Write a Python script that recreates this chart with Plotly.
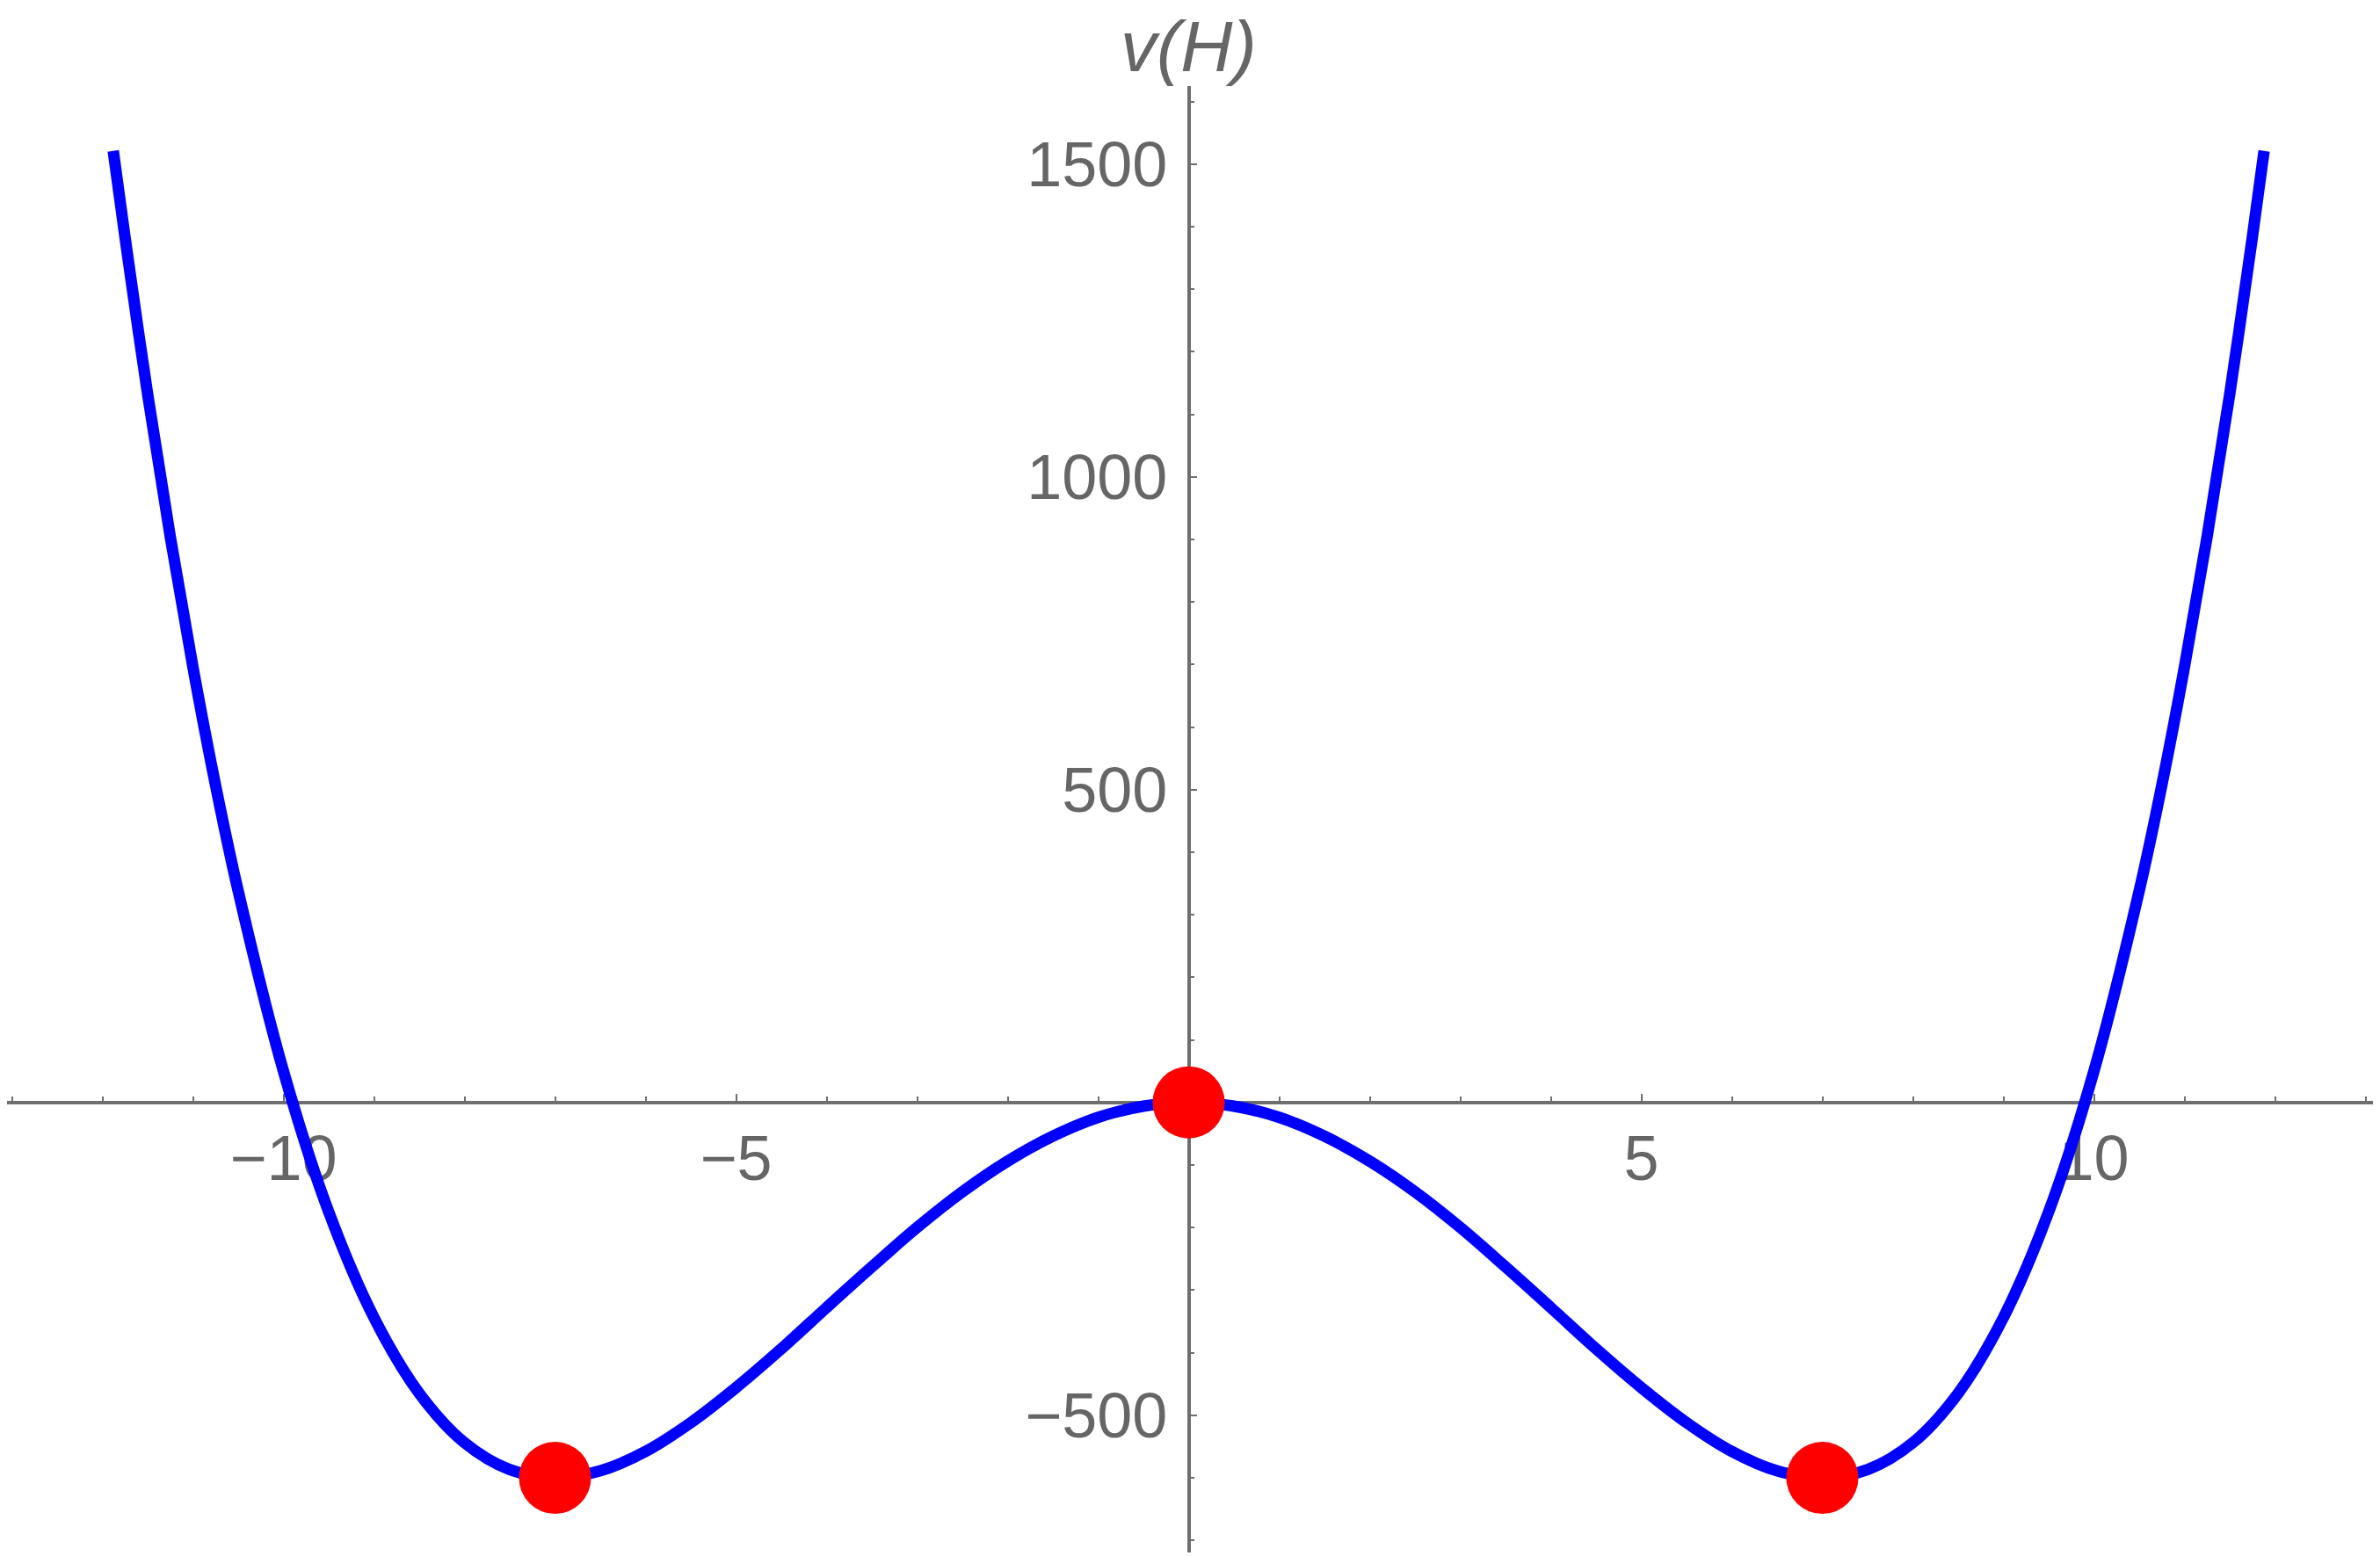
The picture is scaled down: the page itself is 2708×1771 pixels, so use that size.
import plotly.graph_objects as go

# v(H) (symmetric double well, minima near H = +-7)
h_vals = [-11.88, -11.75, -11.5, -11.25, -11.0, -10.75, -10.5, -10.0, -9.5, -9.0, -8.5, -8.0,
          -7.5, -7.0, -6.5, -6.0, -5.5, -5.0, -4.5, -4.0, -3.5, -3.0, -2.5, -2.0, -1.5,
          -1.0, -0.5, 0.0, 0.5, 1.0, 1.5, 2.0, 2.5, 3.0, 3.5, 4.0, 4.5, 5.0, 5.5, 6.0,
          6.5, 7.0, 7.5, 8.0, 8.5, 9.0, 9.5, 10.0, 10.5, 10.75, 11.0, 11.25, 11.5, 11.75, 11.88]
v_vals = [1521, 1383, 1132, 904, 696, 507, 338, 50, -175, -344, -465, -544,
          -587, -600, -589, -558, -512, -456, -394, -328, -263, -200, -143, -94, -54,
          -24, -6, 0, -6, -24, -54, -94, -143, -200, -263, -328, -394, -456, -512, -558,
          -589, -600, -587, -544, -465, -344, -175, 50, 338, 507, 696, 904, 1132, 1383, 1521]

# stationary points marked in red
pts_h = [-7.0, 0.0, 7.0]
pts_v = [-600.25, 0.0, -600.25]

x_ticks = [-10, -5, 5, 10]
x_ticktext = ["\u221210", "\u22125", "5", "10"]
y_ticks = [-500, 500, 1000, 1500]
y_ticktext = ["\u2212500", "500", "1000", "1500"]

W, H = 2708, 1771
OFF = 8  # page body margin pushes the figure down/right
gray = "#6e6e6e"
txt = "#666666"

# pixel geometry of the reference (origin, px per unit)
x0_px, y0_px = 1352.5 - OFF, 1254.7 - OFF
px_x, px_y = 103.0, 0.712
ytop_px, ybot_px = 98 - OFF, 1767 - OFF

fig = go.Figure()
fig.add_trace(go.Scatter(x=h_vals, y=v_vals, mode="lines", line=dict(color="#0000ff", width=13, shape="spline"),
                         showlegend=False))
fig.add_trace(go.Scatter(x=pts_h, y=pts_v, mode="markers", marker=dict(color="#ff0000", size=82, line=dict(width=0)),
                         showlegend=False))

fig.update_layout(
    width=W, height=H,
    margin=dict(l=0, r=0, t=0, b=0),
    paper_bgcolor="white", plot_bgcolor="white",
    font=dict(family="Liberation Sans, Arial, sans-serif", size=72, color=txt),
    xaxis=dict(range=[-x0_px / px_x, (W - x0_px) / px_x], domain=[0, 1],
               anchor="free", position=1 - y0_px / H,
               showgrid=False, zeroline=False, showline=True, linecolor=gray, linewidth=3.5,
               tickvals=x_ticks, ticktext=x_ticktext, ticks="inside", ticklen=8, tickwidth=2, tickcolor=gray,
               minor=dict(dtick=1, tick0=0, ticks="inside", ticklen=5, tickwidth=1.5, tickcolor=gray),
               ticklabelstandoff=0, layer="below traces"),
    yaxis=dict(range=[(y0_px - ybot_px) / px_y, (y0_px - ytop_px) / px_y],
               domain=[1 - ybot_px / H, 1 - ytop_px / H],
               anchor="free", position=x0_px / W,
               showgrid=False, zeroline=False, showline=True, linecolor=gray, linewidth=3.5,
               tickvals=y_ticks, ticktext=y_ticktext, ticks="inside", ticklen=8, tickwidth=2, tickcolor=gray,
               minor=dict(dtick=100, tick0=0, ticks="inside", ticklen=5, tickwidth=1.5, tickcolor=gray),
               ticklabelstandoff=8, layer="below traces"),
)

fig.add_annotation(x=0, xref="x", y=1 - 44 / H, yref="paper", text="<i>v(H)</i>", showarrow=False,
                   xanchor="center", yanchor="middle", font=dict(size=82, color=txt))

fig.write_html("out.html")
